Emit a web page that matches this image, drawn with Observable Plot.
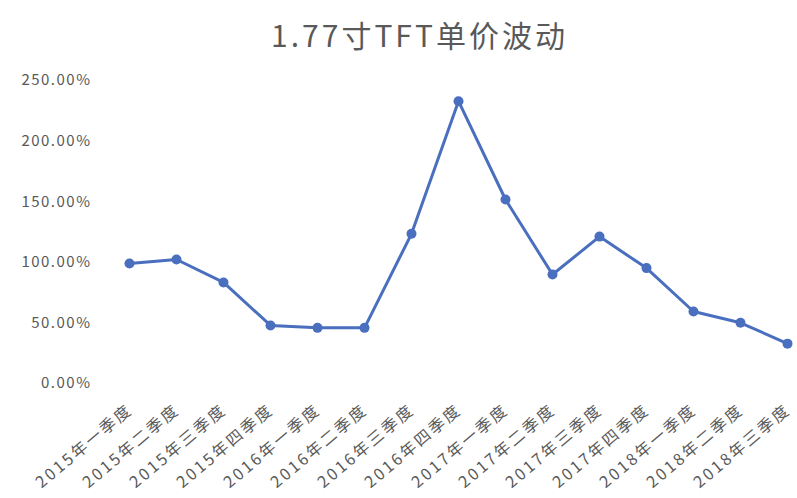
<!DOCTYPE html>
<html>
<head>
<meta charset="utf-8">
<script src="https://cdn.jsdelivr.net/npm/d3@7"></script>
<script src="https://cdn.jsdelivr.net/npm/@observablehq/plot@0.6"></script>
<style>
  html, body { margin: 0; padding: 0; background: #fff; }
  #title {
    height: 60px; width: 797px; box-sizing: border-box;
    padding-left: 42px; padding-top: 19px;
    text-align: center; font-family: "Noto Sans CJK SC", sans-serif;
    font-size: 30px; line-height: 30px; color: #595959; letter-spacing: 3px;
  }
  g[aria-label="y-axis tick label"] text { letter-spacing: 1.5px; }
  g[aria-label="x-axis tick label"] text { letter-spacing: 2.6px; }
</style>
</head>
<body>
<div id="title">1.77寸TFT单价波动</div>
<div id="chart"></div>
<script>
const quarters = [
  "2015年一季度", "2015年二季度", "2015年三季度", "2015年四季度",
  "2016年一季度", "2016年二季度", "2016年三季度", "2016年四季度",
  "2017年一季度", "2017年二季度", "2017年三季度", "2017年四季度",
  "2018年一季度", "2018年二季度", "2018年三季度"
];
const priceChange = [99.0, 102.3, 83.4, 47.9, 45.9, 45.9, 123.5, 232.9, 151.8, 89.9, 121.2, 95.2, 59.4, 50.1, 32.9];
const yTicks = [0, 50, 100, 150, 200, 250];

const data = quarters.map((q, i) => ({quarter: q, value: priceChange[i]}));
const blue = "#4a6fbf";

const chart = Plot.plot({
  width: 797,
  height: 438,
  marginTop: 20,
  marginBottom: 115,
  marginLeft: 127,
  marginRight: 9,
  style: {fontFamily: '"Noto Sans CJK SC", sans-serif', color: "#595959", background: "#fff"},
  x: {type: "point", domain: quarters, padding: 0},
  y: {domain: [0, 250]},
  marks: [
    Plot.axisY({ticks: yTicks, tickSize: 0, tickPadding: 36, fontSize: 15, label: null,
      tickFormat: d => d.toFixed(2) + "%"}),
    Plot.axisX({tickSize: 0, tickPadding: 24, tickRotate: -40, fontSize: 16, label: null, dx: 1}),
    Plot.line(data, {x: "quarter", y: "value", stroke: blue, strokeWidth: 3}),
    Plot.dot(data, {x: "quarter", y: "value", fill: blue, r: 5})
  ]
});
document.getElementById("chart").appendChild(chart);
</script>
</body>
</html>
